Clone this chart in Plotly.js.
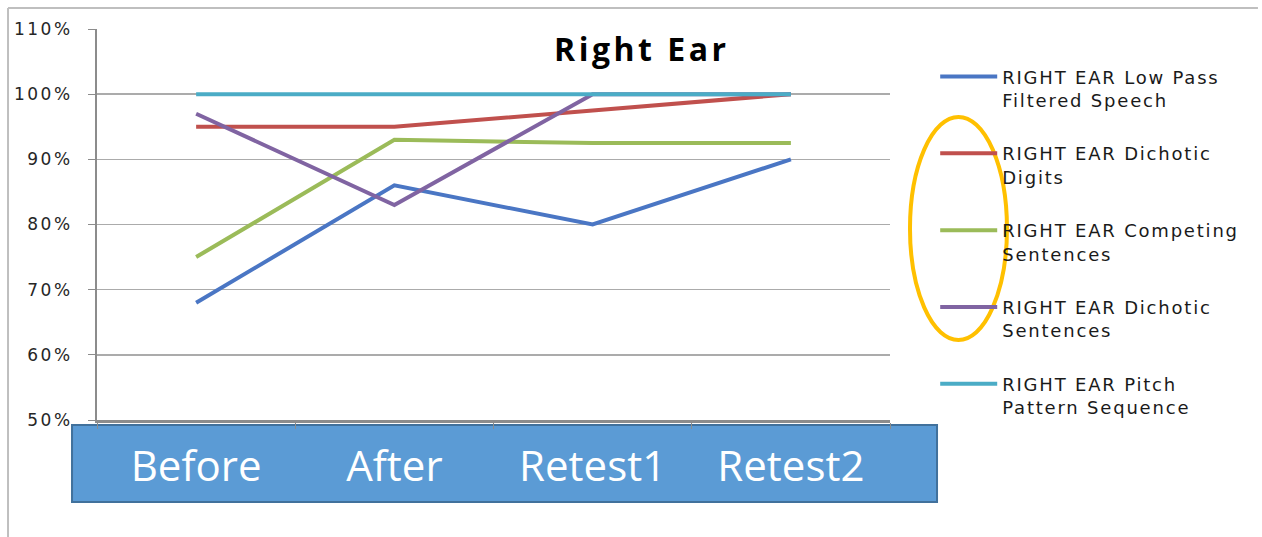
<!DOCTYPE html>
<html>
<head>
<meta charset="utf-8">
<script src="https://cdn.plot.ly/plotly-3.0.1.min.js"></script>
<style>
html,body{margin:0;padding:0;background:#fff;}
#chart{width:1262px;height:537px;}
#chart .legendtext{letter-spacing:1.8px;}
#chart g.legend g.scrollbox{clip-path:none !important;}
#chart g.ytick text{letter-spacing:2.5px;}
#chart .gtitle{letter-spacing:3.5px;}
</style>
</head>
<body>
<div id="chart"></div>
<script>
// ---- data ----
const categories = ["Before", "After", "Retest1", "Retest2"];
const seriesNames = [
  "RIGHT EAR Low Pass<br>Filtered Speech",
  "RIGHT EAR Dichotic<br>Digits",
  "RIGHT EAR Competing<br>Sentences",
  "RIGHT EAR Dichotic<br>Sentences",
  "RIGHT EAR Pitch<br>Pattern Sequence"
];
const lowPassFiltered = [68, 86, 80, 90];
const dichoticDigits = [95, 95, 97.5, 100];
const competingSentences = [75, 93, 92.5, 92.5];
const dichoticSentences = [97, 83, 100, 100];
const pitchPattern = [100, 100, 100, 100];
const yTickValues = [50, 60, 70, 80, 90, 100, 110];
const yTickLabels = ["50%", "60%", "70%", "80%", "90%", "100%", "110%"];

const seriesValues = [lowPassFiltered, dichoticDigits, competingSentences, dichoticSentences, pitchPattern];
const colors = ["#4A76C4", "#C0504D", "#9BBB59", "#8064A2", "#4BACC6"];

const traces = seriesValues.map((vals, i) => ({
  type: "scatter",
  mode: "lines",
  x: categories,
  y: vals,
  name: seriesNames[i],
  legendgroup: "g" + i,
  line: {color: colors[i], width: 4},
  hoverinfo: "skip"
}));

// plot area: x 97..890, y 29..420
const layout = {
  width: 1262, height: 537,
  margin: {l: 97, r: 372, t: 29, b: 117, pad: 0},
  paper_bgcolor: "#ffffff",
  plot_bgcolor: "rgba(0,0,0,0)",
  showlegend: true,
  title: {
    text: "<b>Right Ear</b>",
    font: {family: "Open Sans, sans-serif", size: 32, color: "#000000"},
    xref: "paper", x: 0.687, xanchor: "center",
    yref: "container", y: 1 - 50/537, yanchor: "middle"
  },
  xaxis: {
    type: "category",
    range: [-0.5, 3.5],
    showgrid: false,
    showline: true, linecolor: "#8C8C8C", linewidth: 3,
    ticks: "outside", tickson: "boundaries", ticklen: 6, tickcolor: "#8C8C8C", tickwidth: 1,
    tickfont: {family: "Open Sans, sans-serif", size: 42, color: "#ffffff"},
    ticklabelstandoff: 8,
    zeroline: false, fixedrange: true
  },
  yaxis: {
    range: [50, 110],
    tickvals: yTickValues, ticktext: yTickLabels,
    showgrid: true, gridcolor: "#ABABAB", gridwidth: 1.5,
    showline: true, linecolor: "#8C8C8C", linewidth: 2,
    ticks: "outside", ticklen: 7, tickcolor: "#8C8C8C", tickwidth: 1,
    tickfont: {family: "DejaVu Sans, Verdana, sans-serif", size: 17, color: "#262626"},
    ticklabelstandoff: 12,
    zeroline: false, fixedrange: true
  },
  legend: {
    x: 1.057, xanchor: "left",
    y: 0.925, yanchor: "top",
    font: {family: "DejaVu Sans, Verdana, sans-serif", size: 18, color: "#1a1a1a"},
    valign: "top",
    traceorder: "grouped",
    tracegroupgap: 27,
    itemwidth: 57,
    bgcolor: "rgba(0,0,0,0)"
  },
  shapes: [
    // blue category box
    {type: "rect", xref: "paper", yref: "paper", x0: -0.0315, x1: 1.0593, y0: -0.0128, y1: -0.2097,
     fillcolor: "#5B9BD5", line: {color: "#41719C", width: 2}, layer: "below"},
    // outer border (top and left)
    {type: "line", xref: "paper", yref: "paper", x0: -0.1122, x1: 1.464, y0: 1.0537, y1: 1.0537,
     line: {color: "#BFBFBF", width: 2}},
    {type: "line", xref: "paper", yref: "paper", x0: -0.1122, x1: -0.1122, y0: 1.0537, y1: -0.31,
     line: {color: "#BFBFBF", width: 2}},
    // orange ellipse
    {type: "circle", xref: "paper", yref: "paper", x0: 1.0252, x1: 1.1475, y0: 0.2046, y1: 0.7749,
     line: {color: "#FFC000", width: 4}, fillcolor: "rgba(0,0,0,0)"}
  ]
};

Plotly.newPlot("chart", traces, layout, {displayModeBar: false, staticPlot: true});
</script>
</body>
</html>
